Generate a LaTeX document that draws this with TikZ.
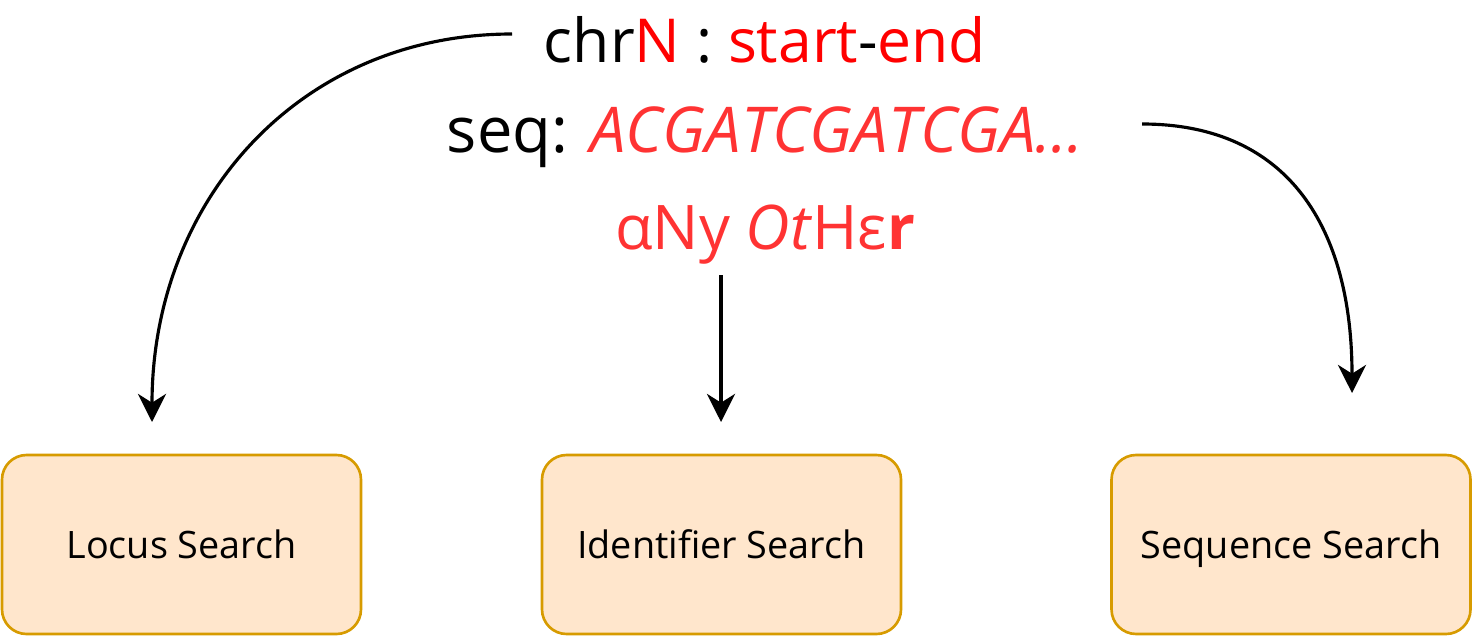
\documentclass[tikz,border=0pt]{standalone}
\usepackage{fontspec}
\setmainfont{Open Sans}
\usepackage{tikz}
\usetikzlibrary{positioning,calc,arrows.meta}
\definecolor{boxFill}{HTML}{FFE6CC}
\definecolor{boxLine}{HTML}{D79B00}
\definecolor{keyRed}{HTML}{FF0000}
\definecolor{seqRed}{HTML}{FF3333}

\begin{document}
\begin{tikzpicture}[x=0.02cm, y=-0.02cm]
	\tikzset{
		b/.style={rectangle, rounded corners=14pt, draw=boxLine, line width=1.5pt, fill=boxFill,
			minimum width=359*0.02cm, minimum height=179*0.02cm, text height=2.9ex, text depth=0pt,
			font=\fontsize{21.5}{24}\selectfont},
		t/.style={font=\fontsize{35}{40}\selectfont, inner sep=0pt},
		e/.style={draw=black, line width=1.8pt, -{Stealth[length=16pt, width=16pt, inset=5pt]}}
	}
	\useasboundingbox (0,0) rectangle (1473,636);
	
	\node[t, font=\fontsize{34.5}{40}\selectfont] (chr) at (765, 40) {chr\textcolor{keyRed}{N} : \textcolor{keyRed}{start}-\textcolor{keyRed}{end}};
	\node[t, font=\fontsize{36}{40}\selectfont] (seq) at (765, 137) {seq: \textcolor{seqRed}{\itshape ACGATCGATCGA...}};
	\node[t, text=seqRed] (other) at (765, 235) {αNy \textit{Ot}Hε\textbf{r}};
	
	\node[b] (locus) at (181.5, 544.5) {Locus Search};
	\node[b] (ident) at (721.5, 544.5) {Identifier Search};
	\node[b] (seqs) at (1291, 544.5) {Sequence Search};
	
	% free ends of the arrows
	\coordinate (l0) at (512, 34);
	\coordinate (l1) at (152, 422);
	\coordinate (m0) at (721, 275);
	\coordinate (m1) at (721, 422);
	\coordinate (r0) at (1142, 124);
	\coordinate (r1) at (1352, 393);
	
	\draw[e] (l0) .. controls (300, 34) and (152, 200) .. (l1);
	\draw[e] (m0) -- (m1);
	\draw[e] (r0) .. controls (1290, 124) and (1352, 230) .. (r1);
\end{tikzpicture}
\end{document}
